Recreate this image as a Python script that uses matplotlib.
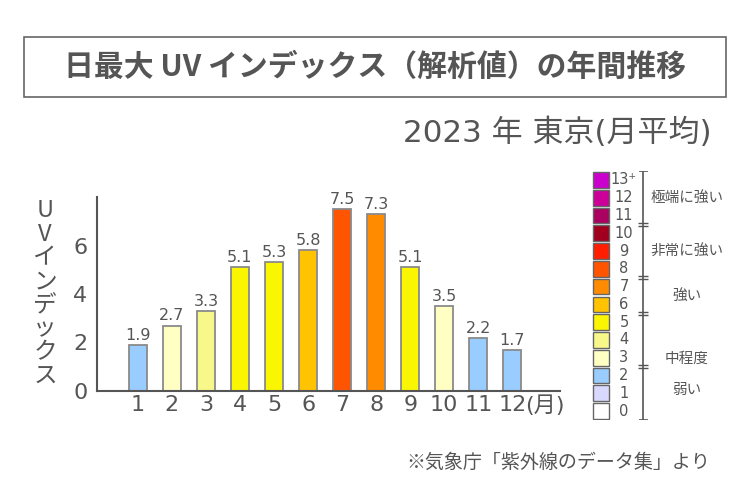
import matplotlib.pyplot as plt
from matplotlib.patches import Rectangle

plt.rcParams['font.family'] = ['DejaVu Sans', 'Noto Sans CJK JP']

# data (Tokyo 2023, monthly mean of daily max UV index)
months = list(range(1, 13))
uv_index = [1.9, 2.7, 3.3, 5.1, 5.3, 5.8, 7.5, 7.3, 5.1, 3.5, 2.2, 1.7]
bar_levels = [2, 3, 4, 5, 5, 6, 8, 7, 5, 3, 2, 2]  # legend level used for each bar colour

level_labels = ["0", "1", "2", "3", "4", "5", "6", "7", "8", "9", "10", "11", "12", "13⁺"]
level_colors = ["#ffffff", "#d9d9ff", "#99ccff", "#ffffc4", "#f8f88a", "#faf500",
                "#ffc300", "#ff8c00", "#ff5500", "#ff1e00", "#a0001e", "#aa0060",
                "#cc0099", "#cc00cc"]
group_names = ["弱い", "中程度", "強い", "非常に強い", "極端に強い"]
group_label_pos = [1.2, 2.95, 6.5, 9.0, 12.0]
group_breaks = [2.5, 5.5, 7.5, 10.5]

txt = "#555555"
cjk = ['Noto Sans CJK JP', 'DejaVu Sans']

fig = plt.figure(figsize=(7.5, 5), dpi=100)

# title box
fig.add_artist(Rectangle((24 / 750, 403 / 500), 702 / 750, 60 / 500, transform=fig.transFigure,
                         facecolor="none", edgecolor="#666666", linewidth=1.2))
fig.text(0.5, 1 - 67 / 500, "日最大 UV インデックス（解析値）の年間推移", ha="center", va="center",
         fontsize=21.5, fontweight="bold", color=txt, family=cjk)
fig.text(0.949, 1 - 133 / 500, "2023 年 東京(月平均)", ha="right", va="center",
         fontsize=22.3, color=txt)

# main chart
ax = fig.add_axes([97 / 750, 109 / 500, 463 / 750, 194 / 500])
colors = [level_colors[l] for l in bar_levels]
bars = ax.bar(months, uv_index, width=0.52, color=colors, edgecolor="#8a8a8a", linewidth=1.3)
for m, v in zip(months, uv_index):
    ax.annotate(f"{v:.1f}", xy=(m, v), xytext=(0, 1.5), textcoords="offset points",
                ha="center", va="bottom", fontsize=11.5, color=txt)

ax.set_xlim(-0.2, 13.4)
ax.set_ylim(0, 8)
ax.set_yticks([0, 2, 4, 6])
ax.set_xticks(months)
ax.set_xticklabels([str(m) for m in months])
ax.tick_params(length=0, labelsize=16, colors=txt)
ax.tick_params(axis="y", pad=7)
ax.tick_params(axis="x", pad=3)
for s in ["top", "right"]:
    ax.spines[s].set_visible(False)
for s in ["left", "bottom"]:
    ax.spines[s].set_color("#555555")
    ax.spines[s].set_linewidth(1.5)
ax.annotate("(月)", xy=(12.38, 0), xycoords=("data", "axes fraction"), xytext=(0, -3),
            textcoords="offset points", ha="left", va="top", fontsize=16, color=txt)

# vertical y label, one character per line
ylabel_chars = list("UVインデックス")
for i, ch in enumerate(ylabel_chars):
    fig.text(45 / 750, 1 - (211 + i * 23.6) / 500, ch, ha="center", va="center",
             fontsize=17, color=txt, family=cjk)

# colour scale legend
lax = fig.add_axes([585 / 750, 80 / 500, 160 / 750, 249 / 500])
lax.set_xlim(585, 745)
lax.set_ylim(-0.5, 13.5)
lax.axis("off")
rows = list(range(len(level_labels)))
lax.barh(rows, 16, left=593, height=0.88, color=level_colors, edgecolor="#666666", linewidth=1)
for r, lab in zip(rows, level_labels):
    lax.text(624, r, lab, ha="center", va="center", fontsize=10.5, color=txt)
lax.vlines(643, -0.5, 13.5, color="#555555", linewidth=1.2)
lax.hlines([-0.5, 13.5], 639, 648, color="#555555", linewidth=1.2)
for b in group_breaks:
    lax.hlines([b - 0.08, b + 0.08], 638, 648, color="#555555", linewidth=1)
for name, y in zip(group_names, group_label_pos):
    lax.text(687, y, name, ha="center", va="center", fontsize=10.5, color=txt, family=cjk)

fig.text(0.947, 1 - 462 / 500, "※気象庁「紫外線のデータ集」より", ha="right", va="center",
         fontsize=13.7, color=txt, family=cjk)

fig.savefig("out.png", dpi=100)
